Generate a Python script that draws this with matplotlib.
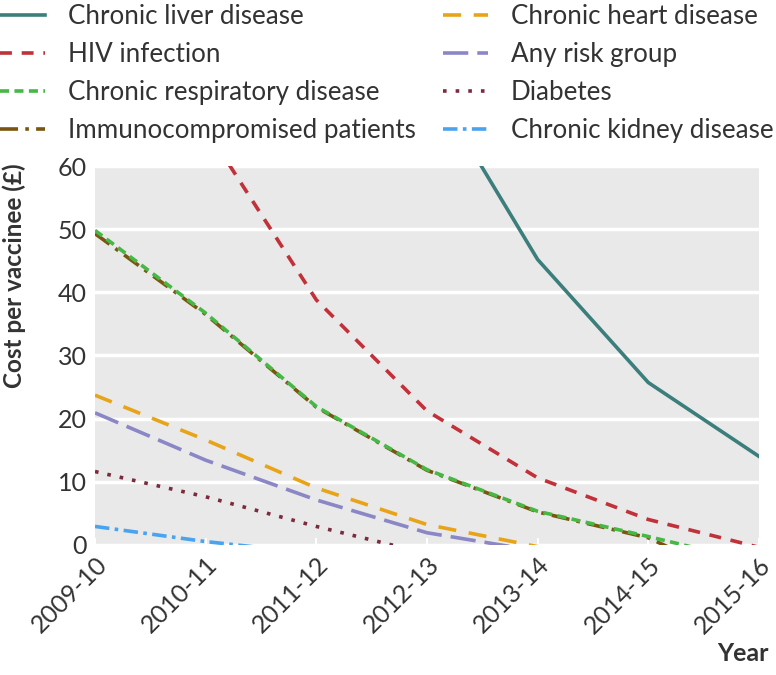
import matplotlib.pyplot as plt
import numpy as np

# data (values past the axes limits get clipped, as in the original)
years = ['2009-10', '2010-11', '2011-12', '2012-13', '2013-14', '2014-15', '2015-16']

liver = [None, None, None, 74.3, 45.2, 25.7, 14.0]
hiv = [None, 66.0, 38.8, 21.2, 10.6, 4.0, -0.4]
respiratory = [49.8, 36.7, 21.9, 11.9, 5.3, 1.3, -2.9]
immuno = [49.3, 36.5, 21.8, 11.8, 5.2, 1.1, -7.0]
heart = [23.7, 16.6, 9.0, 3.2, -0.3, None, None]
anyrisk = [20.9, 13.4, 7.1, 1.9, -1.0, None, None]
diabetes = [11.6, 7.6, 2.9, -1.4, None, None, None]
kidney = [2.9, 0.5, -1.4, None, None, None, None]

plt.rcParams['font.family'] = ['Lato', 'DejaVu Sans']
txt = '#333333'

fig = plt.figure(figsize=(7.76, 6.75), dpi=100)
ax = fig.add_axes([0.1224, 0.193, 0.8556, 0.561])
ax.set_facecolor('#e9e9e9')

x = np.arange(len(years))

def series(vals):
    v = np.array([np.nan if a is None else a for a in vals], dtype=float)
    return v

lw = 2.6
ax.plot(x, series(liver), color='#3b7e7b', lw=lw, label='Chronic liver disease')
ax.plot(x, series(hiv), color='#c1313a', lw=lw, dashes=(3.3, 2.7), label='HIV infection')
ax.plot(x, series(immuno), color='#7a5510', lw=lw, dashes=(5, 2, 1, 2), label='Immunocompromised patients')
ax.plot(x, series(respiratory), color='#45b845', lw=lw, dashes=(2.5, 1.5), label='Chronic respiratory disease')
ax.plot(x, series(heart), color='#e8a419', lw=lw, dashes=(5, 3.5), label='Chronic heart disease')
ax.plot(x, series(anyrisk), color='#8b87c6', lw=lw, dashes=(7, 2.5), label='Any risk group')
ax.plot(x, series(diabetes), color='#7b2b3b', lw=lw, dashes=(1, 2.5), label='Diabetes')
ax.plot(x, series(kidney), color='#4aa3ee', lw=lw, dashes=(4, 1.5, 1, 1.5), label='Chronic kidney disease')

ax.set_xlim(0, 6)
ax.set_ylim(0, 60)
ax.set_yticks(range(0, 61, 10))
ax.set_xticks(x)
ax.set_xticklabels(years, rotation=45, ha='right', rotation_mode='anchor')
ax.yaxis.grid(True, color='white', lw=2.5)
ax.set_axisbelow(True)
for s in ax.spines.values():
    s.set_visible(False)
ax.tick_params(axis='y', length=0, pad=6, labelsize=18, labelcolor=txt)
ax.tick_params(axis='x', direction='in', length=5, width=1.5, color='white', pad=6,
               labelsize=18, labelcolor=txt)

ax.set_ylabel('Cost per vaccinee (£)', fontsize=17.5, fontweight='bold', color=txt)
ax.yaxis.set_label_coords(-0.104, 0.71)
fig.text(0.99, 0.015, 'Year', ha='right', va='bottom', fontsize=18, fontweight='bold', color=txt)

h, l = ax.get_legend_handles_labels()
order = [0, 1, 3, 2, 4, 5, 6, 7]
fig.legend([h[i] for i in order], [l[i] for i in order], ncol=2, frameon=False,
           loc='upper left', bbox_to_anchor=(0.0, 0.994), fontsize=18.7,
           borderpad=0, borderaxespad=0,
           handlelength=1.73, handletextpad=0.88, labelspacing=0.5, columnspacing=1.05,
           labelcolor=txt)

fig.savefig('out.png', dpi=100)
